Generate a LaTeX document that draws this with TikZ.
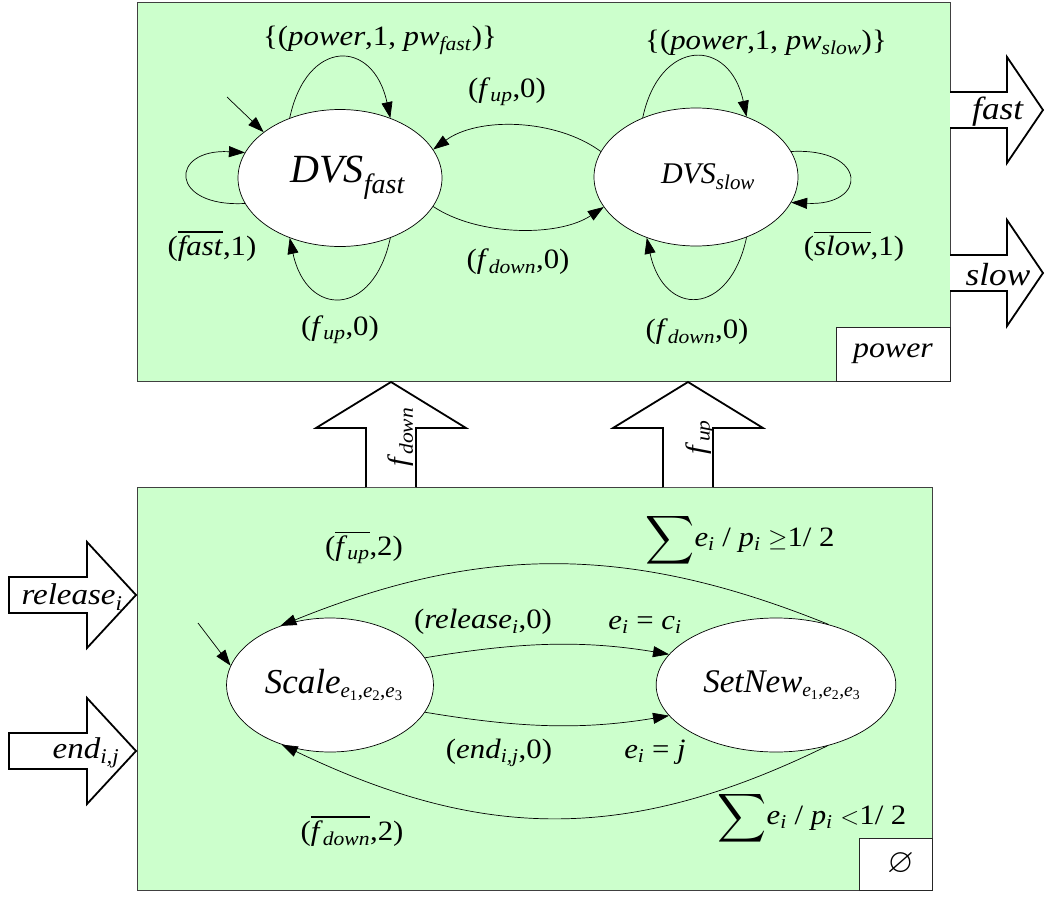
\documentclass[tikz,border=0pt]{standalone}
\usepackage{amssymb}
\usepackage{fontspec}
\setmainfont{Liberation Serif}
\newfontfamily\widefont{Liberation Serif}[FakeStretch=1.1]
\usetikzlibrary{shapes.geometric,arrows.meta}
\definecolor{modgreen}{RGB}{204,255,204}
\newcommand{\vr}[1]{\textit{#1}}
\newcommand{\sub}[1]{\textsubscript{\textit{#1}}}
\newcommand{\ovl}[1]{$\overline{\hbox{#1}}$}
\newcommand{\fsz}[1]{\fontsize{#1}{#1}\selectfont}
\newcommand{\bigsum}{{\fsz{34}$\displaystyle\sum$}}
\newcommand{\eidx}{\textsubscript{\vr{e}\textsubscript{1},\vr{e}\textsubscript{2},\vr{e}\textsubscript{3}}}
\tikzset{
  module/.style={draw=black!75, fill=modgreen, line width=0.8pt},
  tag/.style={draw=black!85, fill=white, line width=0.8pt, inner sep=0pt, font=\widefont\fsz{29}},
  state/.style={ellipse, draw, fill=white, line width=0.7pt, inner sep=0pt},
  trans/.style={-{Triangle[length=16pt,width=11pt]}, line width=0.7pt},
  lbl/.style={inner sep=0pt, font=\widefont\fsz{28}},
  blk/.style={draw=black, line width=1.8pt, fill=white, line join=miter},
}

\begin{document}
\begin{tikzpicture}[x=1pt,y=-1pt]
    \useasboundingbox (0,0) rectangle (1045,905);

    % Draw the two modules.
    \draw[module] (137,2) rectangle (950,381);
    \draw[module] (137,487) rectangle (932,890);
    \node[tag, minimum width=114pt, minimum height=54pt] (pwrtag) at (893,354) {\vr{power}};
    \node[tag, minimum width=73pt, minimum height=52pt] (emptytag) at (895.5,864) {\hspace{10pt}\fsz{34}$\varnothing$};

    % Draw output arrows.
    \foreach \y/\t in {110/fast,273/slow}{
        \draw[blk] (950,\y-18) -- (1007,\y-18) -- (1007,\y-53) -- (1043,\y)
            -- (1007,\y+53) -- (1007,\y+18) -- (950,\y+18);
        \node[lbl, font=\widefont\fsz{32}] (out\t) at (998,\y+2) {\vr{\t}};
    }

    % Draw input arrows.
    \foreach \y/\lx/\t in {595/72/{release\sub{i}},751/86/{end\sub{i,j}}}{
        \draw[blk] (9,\y-18) -- (87,\y-18) -- (87,\y-53) -- (136,\y)
            -- (87,\y+53) -- (87,\y+18) -- (9,\y+18) -- cycle;
        \node[lbl, font=\widefont\fsz{30}] at (\lx,\y+2) {\vr{\t}};
    }

    % Draw arrows from the scaler to the power module.
    \foreach \x in {391,688}
        \draw[blk] (\x-25,487) -- (\x-25,428) -- (\x-75,428) -- (\x,382)
            -- (\x+75,428) -- (\x+25,428) -- (\x+25,487);
    \node[lbl, rotate=90] (fdownin) at (401,437) {\vr{f}\sub{down}};
    \node[lbl, rotate=90] (fupin) at (700,437) {\vr{f}\sub{up}};

    % Draw states of the power module.
    \node[state, minimum width=204pt, minimum height=137pt, font=\fsz{40}] (fast) at (340,178) {\hspace{16pt}\vr{DVS}\sub{fast}};
    \node[state, minimum width=204pt, minimum height=138pt, font=\fsz{30}] (slow) at (696,177) {\hspace{24pt}\vr{DVS}\sub{slow}};

    % Draw transitions of the power module.
    \coordinate (fastinit) at (227,97);
    \draw[trans] (fastinit) -- (fast.149);
    \draw[trans] (fast.130) .. controls +(17,-80) and +(-17,-80) .. (fast.50);
    \draw[trans] (fast.-50) .. controls +(-17,80) and +(17,80) .. (fast.-130);
    \draw[trans] (fast.195) .. controls +(-76,4) and +(-76,-4) .. (fast.165);
    \draw[trans] (fast.-17) .. controls +(45,30) and +(-45,30) .. (slow.198);
    \draw[trans] (slow.165) .. controls +(-45,-33) and +(45,-33) .. (fast.17);
    \draw[trans] (slow.132) .. controls +(17,-80) and +(-17,-80) .. (slow.50);
    \draw[trans] (slow.-50) .. controls +(-17,80) and +(17,80) .. (slow.-129);
    \draw[trans] (slow.15) .. controls +(77,-4) and +(77,4) .. (slow.-15);

    % Label transitions of the power module.
    \node[lbl] (pwfast) at (380,40) {\{(\vr{power},1, \vr{pw}\sub{fast})\}};
    \node[lbl] (pwslow) at (766,43) {\{(\vr{power},1, \vr{pw}\sub{slow})\}};
    \node[lbl] (fupa) at (507,92) {(\vr{f}\sub{up},0)};
    \node[lbl] (fdowna) at (518,262) {(\vr{f}\sub{down},0)};
    \node[lbl] (fupb) at (340,330) {(\vr{f}\sub{up},0)};
    \node[lbl] (fdownb) at (697,332) {(\vr{f}\sub{down},0)};
    \node[lbl] (nfast) at (212,246) {(\ovl{\vr{fast}},1)};
    \node[lbl] (nslow) at (854,246) {(\ovl{\vr{slow}},1)};

    % Draw states of the scaler.
    \node[state, minimum width=204pt, minimum height=134pt, font=\fsz{35}] (scale) at (330,685)
        {\hspace{8pt}\vr{Scale}{\fsz{30}\eidx}};
    \node[state, minimum width=196pt, minimum height=134pt, font=\fsz{33}] (setnew) at (776,685)
        {\hspace{12pt}\vr{SetNew}{\fsz{28}\eidx}};

    % Draw transitions of the scaler.
    \coordinate (scaleinit) at (198,623);
    \draw[trans] (scaleinit) -- (scale.169);
    \draw[trans] (scale.16) .. controls +(90,-15) and +(-90,-15) .. (setnew.164);
    \draw[trans] (scale.-16) .. controls +(90,15) and +(-90,15) .. (setnew.-164);
    \draw[trans] (setnew.49) .. controls +(-200,-81) and +(200,-81) .. (scale.130);
    \draw[trans] (setnew.-50) .. controls +(-200,98) and +(200,96) .. (scale.-129);

    % Label transitions of the scaler.
    \node[lbl] (nfup) at (364,547) {(\ovl{\vr{f}\sub{up}},2)};
    \node[lbl] (rel) at (483,622) {(\vr{release}\sub{i},0)};
    \node[lbl] (eqc) at (645,625) {\vr{e}\sub{i} = \vr{c}\sub{i}};
    \node[lbl] (endl) at (499,753) {(\vr{end}\sub{i,j},0)};
    \node[lbl] (eqj) at (655,752) {\vr{e}\sub{i} = \vr{j}};
    \node[lbl] (nfdown) at (352,831) {(\ovl{\vr{f}\sub{down}},2)};
    \node[lbl] (sumge) at (740,540) {\bigsum\vr{e}\sub{i} / \vr{p}\sub{i} $\geq$1/ 2};
    \node[lbl] (sumlt) at (812,818) {\bigsum\vr{e}\sub{i} / \vr{p}\sub{i} $<$1/ 2};

\end{tikzpicture}
\end{document}
